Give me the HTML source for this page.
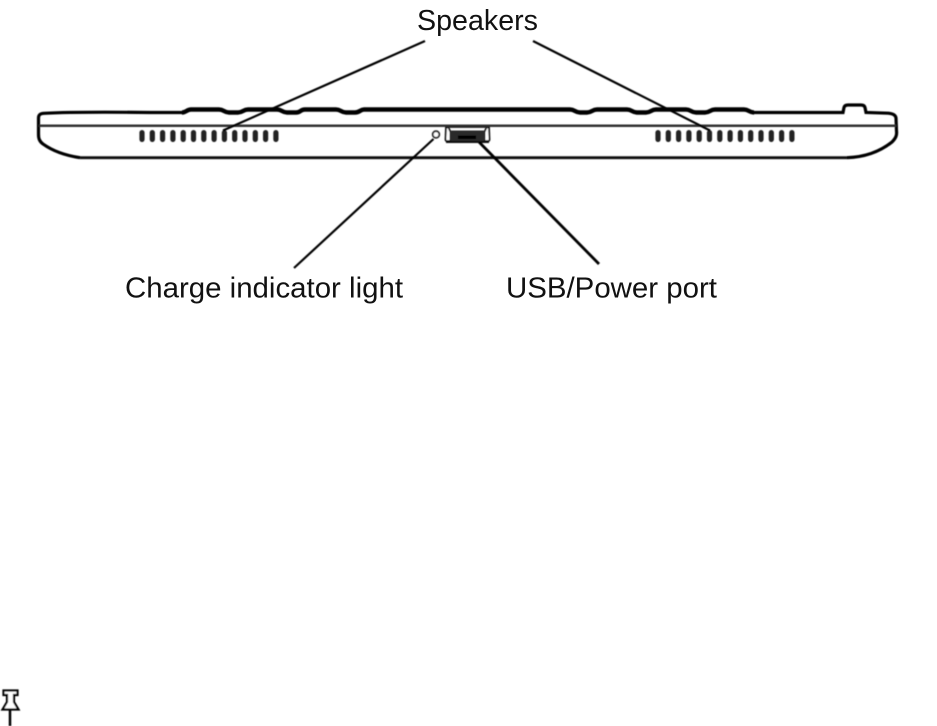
<!DOCTYPE html>
<html>
<head>
<meta charset="utf-8">
<style>
html,body{margin:0;padding:0;background:#fff;}
body{width:937px;height:726px;overflow:hidden;}
svg{display:block;}
text{font-family:"Liberation Sans",Arial,sans-serif;font-size:28.6px;fill:#111;}
</style>
</head>
<body>
<svg width="937" height="726" viewBox="0 0 937 726" xmlns="http://www.w3.org/2000/svg">
<defs><filter id="b" x="-5%" y="-5%" width="110%" height="110%"><feGaussianBlur stdDeviation="0.4"/></filter></defs>
<g filter="url(#b)">
<!-- body outline -->
<path d="M80 157.700 C62 155 50 149 43 144 C39 141 38.500 138 38.500 134 L38.500 118 C38.500 115 40 113.500 44 113.300 C70 112 110 112 150 112.500 L182 112.500" fill="none" stroke="#000" stroke-width="3.200"/>
<path d="M80 157.700 L847 157.700" fill="none" stroke="#111" stroke-width="2.800"/>
<path d="M847 157.700 C868 157 882 150 892 142 C896 138 897 135 896.500 131 L896 118 C895.500 115 893 113.500 888 113.200 L866 112.500 L865 107.500 C864.500 105.500 863 105 861 105 L848 105 C846 105 844.500 105.500 844 107.500 L843 112.500 L752 112.500" fill="none" stroke="#000" stroke-width="3.200"/>
<!-- top bumpy edge -->
<path d="M182 112.500 C186 112.500 187 109.500 191 109.500 L219 109.500 C224 109.500 224 112.500 229 112.500 L238 112.500 C243 112.500 243 109.500 248 109.500 L277 109.500 C282 109.500 282 112.500 287 112.500 L296 112.500 C301 112.500 300 109.500 305 109.500 L336 109.500 C341 109.500 341 112.500 346 112.500 L355 112.500 C360 112.500 360 109.500 364 109.500 L570 109.500 C575 109.500 575 112.500 580 112.500 L587 112.500 C592 112.500 592 109.500 597 109.500 L627 109.500 C632 109.500 632 112.500 637 112.500 L646 112.500 C651 112.500 651 109.500 656 109.500 L686 109.500 C691 109.500 691 112.500 696 112.500 L705 112.500 C710 112.500 710 109.500 715 109.500 L744 109.500 C749 109.500 749 112.500 754 112.500" fill="none" stroke="#000" stroke-width="4.500"/>
<!-- mid seam -->
<rect x="39" y="124.500" width="857" height="2.500" fill="#333"/>
<!-- speaker slots -->
<g fill="#222">
<rect x="139.400" y="130" width="5.200" height="12" rx="2.600"/>
<rect x="149.700" y="130" width="5.200" height="12" rx="2.600"/>
<rect x="160" y="130" width="5.200" height="12" rx="2.600"/>
<rect x="170.300" y="130" width="5.200" height="12" rx="2.600"/>
<rect x="180.600" y="130" width="5.200" height="12" rx="2.600"/>
<rect x="190.900" y="130" width="5.200" height="12" rx="2.600"/>
<rect x="201.200" y="130" width="5.200" height="12" rx="2.600"/>
<rect x="211.500" y="130" width="5.200" height="12" rx="2.600"/>
<rect x="221.800" y="130" width="5.200" height="12" rx="2.600"/>
<rect x="232.100" y="130" width="5.200" height="12" rx="2.600"/>
<rect x="242.400" y="130" width="5.200" height="12" rx="2.600"/>
<rect x="252.700" y="130" width="5.200" height="12" rx="2.600"/>
<rect x="263" y="130" width="5.200" height="12" rx="2.600"/>
<rect x="273.300" y="130" width="5.200" height="12" rx="2.600"/>
<rect x="655.400" y="130" width="5.200" height="12" rx="2.600"/>
<rect x="665.700" y="130" width="5.200" height="12" rx="2.600"/>
<rect x="676" y="130" width="5.200" height="12" rx="2.600"/>
<rect x="686.300" y="130" width="5.200" height="12" rx="2.600"/>
<rect x="696.600" y="130" width="5.200" height="12" rx="2.600"/>
<rect x="706.900" y="130" width="5.200" height="12" rx="2.600"/>
<rect x="717.200" y="130" width="5.200" height="12" rx="2.600"/>
<rect x="727.500" y="130" width="5.200" height="12" rx="2.600"/>
<rect x="737.800" y="130" width="5.200" height="12" rx="2.600"/>
<rect x="748.100" y="130" width="5.200" height="12" rx="2.600"/>
<rect x="758.400" y="130" width="5.200" height="12" rx="2.600"/>
<rect x="768.700" y="130" width="5.200" height="12" rx="2.600"/>
<rect x="779" y="130" width="5.200" height="12" rx="2.600"/>
<rect x="789.300" y="130" width="5.200" height="12" rx="2.600"/>
</g>
<!-- indicator -->
<circle cx="436" cy="134.500" r="3.300" fill="#fff" stroke="#222" stroke-width="1.800"/>
<!-- port -->
<path d="M446 127.500 L448.500 127.500 L450.500 132 L450.500 141 L447 141 Q445.500 141 445.500 139.500 Z" fill="#fff" stroke="#111" stroke-width="1.800"/>
<path d="M489 127.500 L486.500 127.500 L484.500 132 L484.500 141 L488 141 Q489.500 141 489.500 139.500 Z" fill="#fff" stroke="#111" stroke-width="1.800"/>
<path d="M448 127 L488 127" stroke="#222" stroke-width="1.800"/>
<rect x="450.500" y="130.500" width="34" height="10.500" rx="1" fill="#2a2a2a"/>
<rect x="458" y="135.500" width="18" height="3.500" fill="#000"/>
<rect x="446" y="141" width="43" height="2" fill="#111"/>
<!-- leader lines -->
<g stroke="#000" stroke-width="2.200" fill="none">
<line x1="425" y1="41" x2="223" y2="130.500"/>
<line x1="533" y1="41" x2="710" y2="130.500"/>
<line x1="433.500" y1="139" x2="294" y2="268"/>
<line x1="479" y1="142" x2="599" y2="264" stroke-width="2.800"/>
</g>
<!-- pushpin -->
<g fill="none" stroke="#000" stroke-width="2.200">
<path d="M3.500 690.500 L17.500 690.500 L17.500 695 L14 695 L14 702 L18.500 709.500 L2.500 709.500 L7 702 L7 695 L3.500 695 Z" fill="#fff"/>
<line x1="10" y1="710" x2="10" y2="726" stroke-width="2.500"/>
</g>
</g>
<text x="417" y="30" textLength="121" lengthAdjust="spacingAndGlyphs">Speakers</text>
<text x="125" y="297.500" textLength="278" lengthAdjust="spacingAndGlyphs">Charge indicator light</text>
<text x="506" y="297.500" textLength="211" lengthAdjust="spacingAndGlyphs">USB/Power port</text>
</svg>
</body>
</html>
